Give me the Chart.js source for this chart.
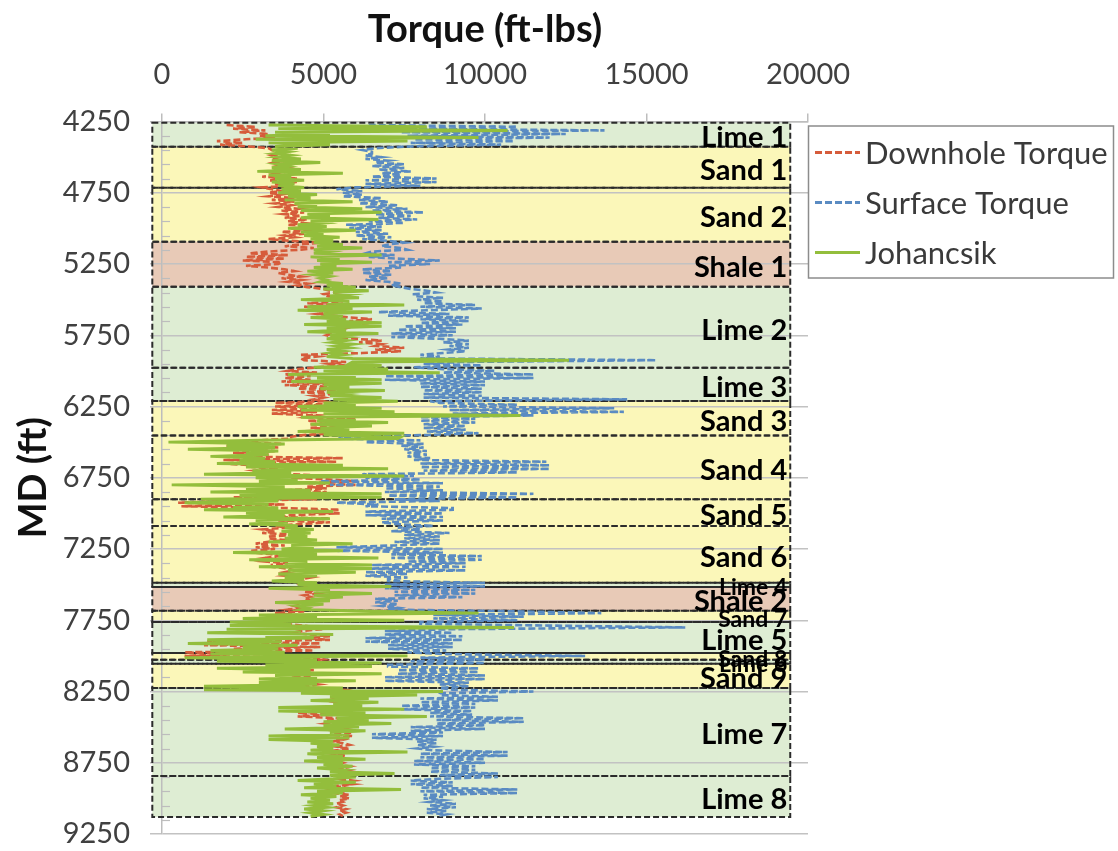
<!DOCTYPE html>
<html>
<head>
<meta charset="utf-8">
<script src="https://cdn.jsdelivr.net/npm/chart.js@4/dist/chart.umd.min.js"></script>
<style>
  html, body { margin: 0; padding: 0; background: #ffffff; }
  canvas { display: block; }
</style>
</head>
<body>
<canvas id="torqueChart" width="1118" height="851"></canvas>
<script>
// Measured depth of each torque sample (ft), 100 ft per row
const depthFt = [
  4275, 4287.5, 4300, 4312.5, 4325, 4337.5, 4350, 4362.5,
  4375, 4387.5, 4400, 4412.5, 4425, 4437.5, 4450, 4462.5,
  4475, 4487.5, 4500, 4512.5, 4525, 4537.5, 4550, 4562.5,
  4575, 4587.5, 4600, 4612.5, 4625, 4637.5, 4650, 4662.5,
  4675, 4687.5, 4700, 4712.5, 4725, 4737.5, 4750, 4762.5,
  4775, 4787.5, 4800, 4812.5, 4825, 4837.5, 4850, 4862.5,
  4875, 4887.5, 4900, 4912.5, 4925, 4937.5, 4950, 4962.5,
  4975, 4987.5, 5000, 5012.5, 5025, 5037.5, 5050, 5062.5,
  5075, 5087.5, 5100, 5112.5, 5125, 5137.5, 5150, 5162.5,
  5175, 5187.5, 5200, 5212.5, 5225, 5237.5, 5250, 5262.5,
  5275, 5287.5, 5300, 5312.5, 5325, 5337.5, 5350, 5362.5,
  5375, 5387.5, 5400, 5412.5, 5425, 5437.5, 5450, 5462.5,
  5475, 5487.5, 5500, 5512.5, 5525, 5537.5, 5550, 5562.5,
  5575, 5587.5, 5600, 5612.5, 5625, 5637.5, 5650, 5662.5,
  5675, 5687.5, 5700, 5712.5, 5725, 5737.5, 5750, 5762.5,
  5775, 5787.5, 5800, 5812.5, 5825, 5837.5, 5850, 5862.5,
  5875, 5887.5, 5900, 5912.5, 5925, 5937.5, 5950, 5962.5,
  5975, 5987.5, 6000, 6012.5, 6025, 6037.5, 6050, 6062.5,
  6075, 6087.5, 6100, 6112.5, 6125, 6137.5, 6150, 6162.5,
  6175, 6187.5, 6200, 6212.5, 6225, 6237.5, 6250, 6262.5,
  6275, 6287.5, 6300, 6312.5, 6325, 6337.5, 6350, 6362.5,
  6375, 6387.5, 6400, 6412.5, 6425, 6437.5, 6450, 6462.5,
  6475, 6487.5, 6500, 6512.5, 6525, 6537.5, 6550, 6562.5,
  6575, 6587.5, 6600, 6612.5, 6625, 6637.5, 6650, 6662.5,
  6675, 6687.5, 6700, 6712.5, 6725, 6737.5, 6750, 6762.5,
  6775, 6787.5, 6800, 6812.5, 6825, 6837.5, 6850, 6862.5,
  6875, 6887.5, 6900, 6912.5, 6925, 6937.5, 6950, 6962.5,
  6975, 6987.5, 7000, 7012.5, 7025, 7037.5, 7050, 7062.5,
  7075, 7087.5, 7100, 7112.5, 7125, 7137.5, 7150, 7162.5,
  7175, 7187.5, 7200, 7212.5, 7225, 7237.5, 7250, 7262.5,
  7275, 7287.5, 7300, 7312.5, 7325, 7337.5, 7350, 7362.5,
  7375, 7387.5, 7400, 7412.5, 7425, 7437.5, 7450, 7462.5,
  7475, 7487.5, 7500, 7512.5, 7525, 7537.5, 7550, 7562.5,
  7575, 7587.5, 7600, 7612.5, 7625, 7637.5, 7650, 7662.5,
  7675, 7687.5, 7700, 7712.5, 7725, 7737.5, 7750, 7762.5,
  7775, 7787.5, 7800, 7812.5, 7825, 7837.5, 7850, 7862.5,
  7875, 7887.5, 7900, 7912.5, 7925, 7937.5, 7950, 7962.5,
  7975, 7987.5, 8000, 8012.5, 8025, 8037.5, 8050, 8062.5,
  8075, 8087.5, 8100, 8112.5, 8125, 8137.5, 8150, 8162.5,
  8175, 8187.5, 8200, 8212.5, 8225, 8237.5, 8250, 8262.5,
  8275, 8287.5, 8300, 8312.5, 8325, 8337.5, 8350, 8362.5,
  8375, 8387.5, 8400, 8412.5, 8425, 8437.5, 8450, 8462.5,
  8475, 8487.5, 8500, 8512.5, 8525, 8537.5, 8550, 8562.5,
  8575, 8587.5, 8600, 8612.5, 8625, 8637.5, 8650, 8662.5,
  8675, 8687.5, 8700, 8712.5, 8725, 8737.5, 8750, 8762.5,
  8775, 8787.5, 8800, 8812.5, 8825, 8837.5, 8850, 8862.5,
  8875, 8887.5, 8900, 8912.5, 8925, 8937.5, 8950, 8962.5,
  8975, 8987.5, 9000, 9012.5, 9025, 9037.5, 9050, 9062.5,
  9075, 9087.5, 9100, 9112.5, 9125
];

// Downhole torque (ft-lbs)
const downholeTorque = [
  2000, 2900, 2200, 3200, 2400, 3300, 3000, 3500,
  2600, 1700, 2500, 1800, 2700, 3300, 3400, 3700,
  3700, 3400, 3600, 3400, 3800, 3500, 3900, 3600,
  3900, 3600, 3800, 3500, 3800, 3100, 4200, 3300,
  4200, 3500, 4000, 3100, 3400, 3700, 3300, 3700,
  3300, 4100, 3400, 4100, 3500, 4000, 3600, 4200,
  3700, 4400, 3800, 4300, 3800, 4500, 3900, 4400,
  3900, 4900, 4000, 4900, 3700, 4400, 3800, 4100,
  3300, 4000, 4900, 4300, 3800, 4700, 4300, 3300,
  2700, 3900, 2600, 3800, 2500, 3700, 3600, 2600,
  3300, 3800, 4100, 3600, 3900, 4300, 3700, 4300,
  3900, 4500, 4200, 4500, 5000, 5200, 5400, 5000,
  5100, 5600, 5000, 5600, 4500, 5400, 4400, 5600,
  4700, 5300, 4800, 5300, 5800, 6500, 5800, 6500,
  5900, 5500, 5700, 5500, 5000, 5300, 5100, 5300,
  6000, 6800, 6100, 6800, 6600, 7500, 6600, 7400,
  6200, 4300, 4800, 4300, 4400, 5700, 5200, 5700,
  4800, 4200, 3900, 4800, 3800, 4600, 3800, 4600,
  3700, 5300, 3800, 5300, 4200, 5400, 4300, 5400,
  4700, 5000, 4700, 5000, 3500, 5300, 3500, 5300,
  3400, 4800, 3400, 4800, 4500, 6000, 4500, 6000,
  4600, 5600, 4600, 5600, 4400, 5400, 4400, 4000,
  4000, 3000, 2300, 3700, 2000, 3600, 2000, 3500,
  2200, 3300, 2200, 5600, 1900, 5400, 1900, 2800,
  2800, 3600, 2900, 3300, 4000, 5200, 4000, 5200,
  6000, 4500, 6000, 4500, 5100, 3900, 5100, 3900,
  5000, 2200, 4800, 2200, 500, 3800, 600, 3800,
  5500, 4000, 5500, 4000, 3600, 5200, 3600, 5200,
  4300, 3500, 3900, 3100, 3500, 3100, 4200, 3300,
  3300, 3800, 3300, 2900, 3800, 2900, 3500, 2800,
  2800, 3500, 3600, 3200, 3600, 3200, 3900, 3400,
  3400, 3900, 4100, 3800, 4100, 3800, 4600, 4300,
  4300, 4500, 4300, 4500, 4300, 4800, 4400, 4800,
  4400, 4600, 4400, 4600, 4100, 4300, 4100, 4300,
  3900, 4400, 3500, 4200, 3700, 3300, 4000, 3700,
  3700, 4400, 4800, 5000, 4300, 4000, 4600, 5200,
  4400, 5200, 1400, 4900, 1300, 4900, 2200, 4700,
  700, 2000, 700, 4800, 5000, 3900, 4500, 3900,
  4500, 3800, 4700, 3800, 4700, 4000, 4600, 4000,
  4600, 4300, 4800, 4300, 4800, 5600, 5300, 5600,
  5300, 5700, 5400, 5700, 5400, 5800, 5500, 5800,
  5500, 5200, 4200, 5200, 4200, 5500, 5100, 5500,
  5100, 5700, 5400, 5700, 5400, 5900, 5300, 5900,
  5300, 5600, 5300, 5600, 5800, 5400, 5800, 5400,
  5700, 5300, 5700, 5300, 5600, 5400, 5600, 5400,
  5800, 5500, 5800, 5500, 5700, 5500, 5700, 5500,
  5900, 5400, 5900, 5400, 5700, 5300, 5700, 5300,
  5800, 5500, 5800, 5500, 5600, 5400, 5600, 5400,
  5700, 5500, 5700, 5500, 5600
];

// Surface torque (ft-lbs)
const surfaceTorque = [
  6400, 11000, 7000, 13700, 7400, 12500, 7600, 12000,
  7800, 10900, 7700, 10500, 7700, 6600, 6200, 6500,
  6500, 6300, 6800, 6300, 7000, 6600, 7500, 6500,
  7500, 6700, 7700, 6800, 7400, 6500, 8500, 6300,
  8500, 6300, 8000, 6000, 5400, 6200, 5600, 6200,
  5600, 6800, 6100, 7000, 6100, 7300, 6300, 7600,
  6500, 8100, 6600, 7700, 6700, 7900, 6400, 7500,
  5700, 6800, 5800, 6800, 6000, 7000, 6000, 7100,
  6200, 7000, 7500, 7000, 6800, 7400, 7600, 6500,
  6300, 7200, 6400, 7300, 8600, 7000, 8300, 7000,
  7400, 6200, 7100, 6200, 7100, 6400, 7000, 6300,
  7000, 7400, 7100, 7400, 7700, 8200, 8500, 7800,
  7800, 8700, 7900, 8700, 8100, 9700, 8000, 9900,
  8200, 6700, 8900, 7000, 9500, 8000, 9500, 8000,
  9300, 7500, 9100, 7300, 9100, 7100, 9000, 7100,
  8600, 9500, 8700, 9500, 8900, 9500, 8900, 9400,
  8700, 8000, 8600, 8000, 15300, 9200, 8100, 9900,
  7800, 8700, 10300, 8700, 11500, 6900, 11500, 6900,
  10000, 8000, 10000, 8000, 9900, 8100, 9900, 8100,
  9900, 8100, 14400, 8300, 8600, 11000, 8700, 14000,
  8900, 14300, 9000, 11500, 8000, 9700, 8000, 9700,
  8100, 9400, 8100, 9400, 8200, 9800, 8200, 5500,
  5500, 8000, 6300, 8100, 7400, 8100, 7500, 8200,
  7600, 8200, 7600, 8300, 7800, 11900, 8000, 12000,
  8000, 12000, 8100, 11000, 6200, 7800, 6300, 8000,
  4900, 8700, 5200, 8600, 6900, 8700, 6900, 11500,
  7000, 11000, 7200, 8600, 5400, 6700, 6300, 9000,
  9000, 6300, 8700, 6300, 8700, 6800, 8700, 6800,
  7200, 8400, 7300, 8000, 7100, 8900, 7500, 8600,
  7500, 8600, 7200, 8600, 7200, 5400, 8700, 5400,
  8700, 7100, 9900, 7100, 9900, 7600, 9400, 6500,
  9400, 6400, 9400, 6300, 7600, 6300, 7600, 7000,
  7000, 10000, 6900, 10000, 6900, 9700, 7200, 9700,
  7200, 9300, 6600, 7300, 6600, 7300, 6800, 7300,
  7000, 11000, 13600, 8400, 11200, 8400, 11000, 8000,
  8000, 12000, 16200, 9000, 6900, 9000, 6900, 9300,
  6300, 9300, 6300, 9000, 7000, 9000, 7000, 8800,
  7600, 8800, 13100, 8000, 10000, 7700, 10000, 7000,
  7000, 9800, 7300, 9800, 7300, 10000, 6900, 10000,
  6900, 9500, 8600, 9500, 8600, 9000, 11500, 8600,
  8600, 10400, 8000, 10400, 8000, 9700, 7400, 9700,
  7400, 9600, 8300, 9600, 8300, 11200, 8500, 11200,
  8500, 10000, 7700, 10000, 7700, 8700, 6500, 8700,
  6500, 8500, 7900, 8500, 7900, 8400, 7900, 8400,
  10700, 8000, 10700, 8000, 10000, 7800, 10000, 7800,
  9700, 8300, 9700, 8300, 10400, 8600, 10400, 8600,
  7700, 9000, 7700, 9000, 8000, 11000, 8000, 11000,
  8100, 8700, 8100, 8700, 8300, 9100, 8300, 9100,
  8200, 8800, 8200, 8800, 8500
];

// Johancsik model torque (ft-lbs)
const johancsikTorque = [
  3300, 8200, 3600, 10700, 3500, 5200, 3200, 9800,
  2900, 7600, 3300, 5200, 3500, 4200, 3400, 3900,
  3500, 4000, 3600, 4300, 3400, 4900, 3600, 3900,
  3400, 4300, 2950, 5600, 3300, 4000, 3500, 4400,
  3400, 4100, 3600, 4400, 3700, 4300, 3600, 4800,
  3900, 4600, 3800, 5900, 4100, 4800, 4200, 6200,
  4300, 6800, 4500, 5200, 4300, 6700, 4600, 5000,
  4200, 5100, 3900, 6000, 4300, 5000, 4400, 5500,
  4600, 5300, 4700, 5600, 4800, 6200, 4700, 5200,
  4700, 6800, 4600, 5500, 4800, 6500, 4900, 5400,
  4700, 5900, 4500, 5300, 4700, 5200, 4900, 5100,
  4900, 5600, 5100, 6000, 5000, 6400, 5300, 5800,
  5200, 6100, 4300, 5800, 5100, 7500, 4500, 5900,
  4200, 6500, 5000, 5600, 4600, 5700, 5100, 6800,
  4400, 6800, 5100, 5700, 4500, 6700, 5200, 5700,
  5100, 5700, 5300, 5900, 5400, 5800, 5100, 5600,
  5200, 5600, 5100, 5900, 12600, 5900, 5800, 6800,
  4700, 7000, 5000, 8600, 3900, 6000, 4800, 6800,
  4000, 6800, 5000, 5800, 4900, 6900, 5100, 5700,
  5200, 6800, 5300, 7300, 5000, 6000, 4200, 6800,
  4300, 7200, 5000, 11100, 4300, 6000, 4800, 7000,
  4600, 6500, 4900, 5800, 4200, 7500, 5000, 7400,
  7300, 3000, 200, 3800, 2000, 3500, 800, 3600,
  2600, 3300, 1500, 3200, 2400, 3500, 1700, 5600,
  2600, 7000, 2800, 4000, 1300, 7500, 2900, 4200,
  3000, 5200, 300, 3800, 2600, 4600, 1500, 6800,
  2400, 6800, 1200, 3600, 700, 3300, 2200, 3600,
  1300, 5300, 2600, 3800, 1900, 5200, 2900, 3900,
  2700, 4200, 3800, 4700, 3700, 4600, 3900, 4500,
  3800, 4800, 3300, 5900, 4000, 4700, 3700, 5600,
  2200, 4800, 3600, 6700, 2700, 4500, 3800, 6500,
  3000, 6500, 3900, 6000, 3600, 4800, 3800, 4400,
  3400, 4800, 4200, 7100, 3300, 5200, 4700, 6500,
  4700, 5600, 4600, 5200, 3500, 5000, 4200, 4500,
  4300, 6500, 9800, 3000, 4800, 2500, 7500, 2100,
  4000, 2100, 10900, 2000, 4300, 1400, 5300, 3200,
  4700, 1400, 3700, 800, 4200, 2500, 3600, 1500,
  3800, 1500, 7600, 700, 4800, 1700, 6800, 3200,
  6500, 1700, 4600, 2500, 6800, 3500, 4800, 3000,
  6000, 3000, 4800, 1300, 5600, 1300, 8700, 4300,
  7900, 5200, 6400, 4600, 6700, 5300, 6200, 3600,
  7500, 3600, 6300, 4900, 8200, 5400, 6400, 5000,
  7100, 5000, 6100, 3800, 6300, 5200, 5800, 3300,
  5800, 3300, 5300, 4600, 5500, 4800, 5300, 4600,
  7600, 4500, 5600, 4800, 6300, 4400, 5600, 5000,
  5900, 4800, 5600, 5200, 7200, 5200, 6000, 5300,
  4200, 6000, 4700, 5400, 4400, 7400, 4800, 5600,
  4300, 5400, 4600, 5200, 4500, 5300, 4700, 5100,
  4400, 5000, 4600, 5000, 4600
];

// Axis tick values
const torqueTicks = [0, 5000, 10000, 15000, 20000];
const mdTicks = [4250, 4750, 5250, 5750, 6250, 6750, 7250, 7750, 8250, 8750, 9250];

// Formation intervals (ft)
const formationNames = ['Lime 1', 'Sand 1', 'Sand 2', 'Shale 1', 'Lime 2', 'Lime 3', 'Sand 3', 'Sand 4', 'Sand 5', 'Sand 6',
  'Lime 4', 'Shale 2', 'Sand 7', 'Lime 5', 'Sand 8', 'Lime 6', 'Sand 9', 'Lime 7', 'Lime 8'];
const formationTops = [4258, 4427, 4715, 5094, 5409, 5978, 6211, 6453, 6901, 7088,
  7486, 7517, 7683, 7762, 7980, 8028, 8056, 8225, 8843];
const formationBases = [4427, 4715, 5094, 5409, 5978, 6211, 6453, 6901, 7088, 7486,
  7517, 7683, 7762, 7980, 8028, 8056, 8225, 8843, 9130];
const formationKinds = ['lime', 'sand', 'sand', 'shale', 'lime', 'lime', 'sand', 'sand', 'sand', 'sand',
  'lime', 'shale', 'sand', 'lime', 'sand', 'lime', 'sand', 'lime', 'lime'];

// Horizontal extent of the formation boxes, in torque units
const bandFromTorque = -300;
const bandToTorque = 19450;

const kindFill = { lime: '#DEEDD3', sand: '#FBF7B9', shale: '#E8CAB7' };
const FONT = 'Lato, "Open Sans", sans-serif';

const asPoints = values => values.map((v, i) => ({ x: v, y: depthFt[i] }));

// Formation boxes, minor depth ticks and labels
const formationPlugin = {
  id: 'formations',
  beforeDraw(chart) {
    const { ctx } = chart;
    const xs = chart.scales.x, ys = chart.scales.y;
    const x0 = xs.getPixelForValue(bandFromTorque);
    const x1 = xs.getPixelForValue(bandToTorque);
    ctx.save();
    formationNames.forEach((name, i) => {
      const y0 = ys.getPixelForValue(formationTops[i]);
      const y1 = ys.getPixelForValue(formationBases[i]);
      ctx.fillStyle = kindFill[formationKinds[i]];
      ctx.fillRect(x0, y0, x1 - x0, y1 - y0);
    });
    ctx.restore();
  },
  beforeDatasetsDraw(chart) {
    const { ctx, chartArea } = chart;
    const xs = chart.scales.x, ys = chart.scales.y;
    const x0 = xs.getPixelForValue(bandFromTorque);
    const x1 = xs.getPixelForValue(bandToTorque);
    ctx.save();
    // minor depth ticks every 100 ft
    ctx.strokeStyle = '#BDBDBD';
    ctx.lineWidth = 1.2;
    for (let v = ys.min + 100; v < ys.max; v += 100) {
      if ((v - ys.min) % 500 === 0) continue;
      const y = Math.round(ys.getPixelForValue(v)) + 0.5;
      ctx.beginPath();
      ctx.moveTo(chartArea.left, y);
      ctx.lineTo(chartArea.left + 8, y);
      ctx.stroke();
    }
    // dashed box round each formation
    ctx.strokeStyle = '#2b2b2b';
    ctx.lineWidth = 2;
    ctx.setLineDash([6, 3]);
    formationNames.forEach((name, i) => {
      const y0 = ys.getPixelForValue(formationTops[i]);
      const y1 = ys.getPixelForValue(formationBases[i]);
      ctx.strokeRect(x0, y0, x1 - x0, y1 - y0);
    });
    ctx.restore();
  },
  afterDatasetsDraw(chart) {
    const { ctx } = chart;
    const xs = chart.scales.x, ys = chart.scales.y;
    const xr = xs.getPixelForValue(bandToTorque) - 3;
    ctx.save();
    ctx.fillStyle = '#000000';
    ctx.textAlign = 'right';
    ctx.textBaseline = 'middle';
    formationNames.forEach((name, i) => {
      const y0 = ys.getPixelForValue(formationTops[i]);
      const y1 = ys.getPixelForValue(formationBases[i]);
      const size = (y1 - y0) < 22 ? 23 : 29;
      ctx.font = `bold ${size}px ${FONT}`;
      ctx.fillText(name, xr, (y0 + y1) / 2 + 3);
    });
    ctx.restore();
  }
};

// Boxed series key to the right of the plot
const seriesKeyPlugin = {
  id: 'seriesKey',
  afterDraw(chart) {
    const { ctx, chartArea } = chart;
    const left = chartArea.right;
    const top = chartArea.top + 4;
    const width = 305, height = 152;
    ctx.save();
    ctx.strokeStyle = '#8c8c8c';
    ctx.lineWidth = 1.5;
    ctx.strokeRect(left + 0.5, top + 0.5, width, height);
    ctx.font = `31px ${FONT}`;
    ctx.textBaseline = 'middle';
    ctx.textAlign = 'left';
    chart.data.datasets.forEach((ds, i) => {
      const y = top + 27 + i * 50;
      ctx.strokeStyle = ds.borderColor;
      ctx.lineWidth = 3;
      ctx.setLineDash(ds.borderDash || []);
      ctx.beginPath();
      ctx.moveTo(left + 7, y);
      ctx.lineTo(left + 52, y);
      ctx.stroke();
      ctx.setLineDash([]);
      ctx.fillStyle = '#3a3a3a';
      ctx.fillText(ds.label, left + 57, y + 1);
    });
    ctx.restore();
  }
};

Chart.defaults.font.family = FONT;

new Chart(document.getElementById('torqueChart'), {
  type: 'scatter',
  data: {
    datasets: [
      {
        label: 'Downhole Torque',
        data: asPoints(downholeTorque),
        showLine: true,
        borderColor: '#D65C3B',
        borderWidth: 2.6,
        borderDash: [7, 3],
        pointRadius: 0,
        order: 3
      },
      {
        label: 'Surface Torque',
        data: asPoints(surfaceTorque),
        showLine: true,
        borderColor: '#5A8BC2',
        borderWidth: 2.6,
        borderDash: [7, 3],
        pointRadius: 0,
        order: 2
      },
      {
        label: 'Johancsik',
        data: asPoints(johancsikTorque),
        showLine: true,
        borderColor: '#93BE3C',
        borderWidth: 3,
        pointRadius: 0,
        order: 1
      }
    ]
  },
  options: {
    responsive: false,
    animation: false,
    layout: { padding: { left: 0, top: 0, right: 310, bottom: 17 } },
    plugins: {
      legend: { display: false },
      tooltip: { enabled: false }
    },
    scales: {
      x: {
        type: 'linear',
        position: 'top',
        min: 0,
        max: 20000,
        afterBuildTicks: s => { s.ticks = torqueTicks.map(v => ({ value: v })); },
        afterFit: s => { s.height = 121.5; },
        ticks: {
          callback: v => String(v),
          color: '#404040',
          font: { size: 29 },
          padding: 21,
          maxRotation: 0
        },
        grid: { drawOnChartArea: false, color: '#BDBDBD', lineWidth: 1.5, tickLength: 8 },
        border: { color: '#BDBDBD', width: 1.5 },
        title: {
          display: true,
          text: 'Torque (ft-lbs)',
          color: '#111111',
          font: { size: 38, weight: 'bold' },
          padding: { top: 7, bottom: 0 }
        }
      },
      y: {
        type: 'linear',
        reverse: true,
        min: 4250,
        max: 9250,
        afterBuildTicks: s => { s.ticks = mdTicks.map(v => ({ value: v })); },
        afterFit: s => { s.width = 162; s.paddingTop = 0; s.paddingBottom = 0; },
        ticks: {
          callback: v => String(v),
          color: '#404040',
          font: { size: 29 },
          padding: 20
        },
        grid: { color: '#C2C2C2', lineWidth: 1.5, tickLength: 12 },
        border: { color: '#BDBDBD', width: 1.5 },
        title: {
          display: true,
          text: 'MD (ft)',
          color: '#111111',
          font: { size: 38, weight: 'bold' },
          padding: { top: 11, bottom: 0 }
        }
      }
    }
  },
  plugins: [formationPlugin, seriesKeyPlugin]
});
</script>
</body>
</html>
